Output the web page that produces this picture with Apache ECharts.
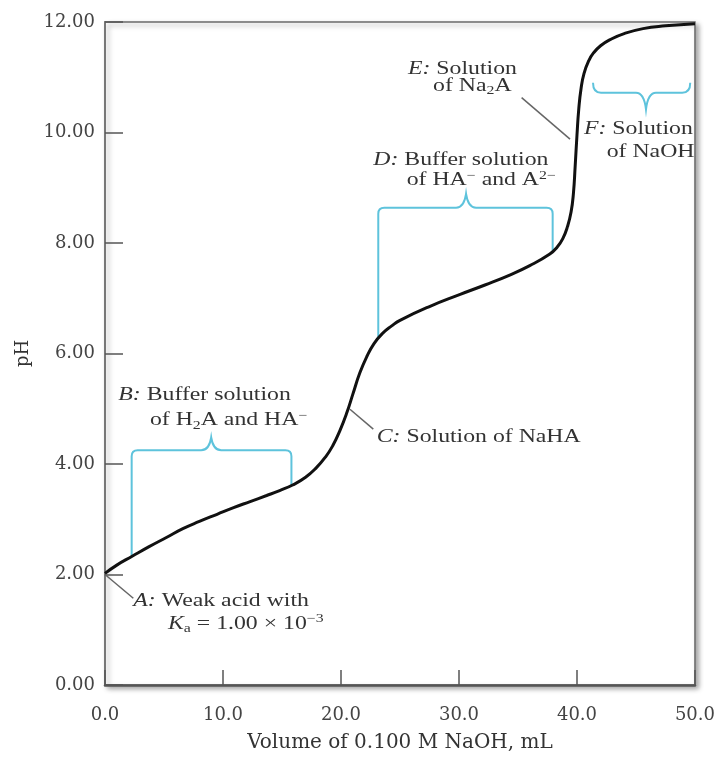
<!DOCTYPE html>
<html><head><meta charset="utf-8">
<script src="https://cdn.jsdelivr.net/npm/echarts@6/dist/echarts.min.js"></script>
<style>html,body{margin:0;padding:0;background:#fff}#c{width:718px;height:758px}</style>
</head><body><div id="c"></div>
<script>
// ---- data ----
const volumeML = [0, 1.0, 2.3, 3.7, 5.2, 6.6, 8.0, 9.5, 10.9, 12.3, 13.7, 14.8, 15.9, 17.0, 17.9, 18.7, 19.3, 19.9, 20.5, 21.0, 21.6, 22.2, 22.8, 23.5, 24.3, 25.0, 27.5, 30.1, 32.2, 34.3, 36.0, 37.7, 38.3, 38.8, 39.2, 39.5, 39.7, 39.85, 40.0, 40.15, 40.35, 40.6, 41.0, 41.4, 42.0, 42.8, 44.0, 45.6, 47.5, 50.0];
const pHValues = [2.02, 2.17, 2.33, 2.50, 2.67, 2.83, 2.96, 3.09, 3.21, 3.32, 3.43, 3.52, 3.62, 3.76, 3.93, 4.13, 4.33, 4.60, 4.93, 5.26, 5.65, 5.95, 6.18, 6.36, 6.50, 6.60, 6.85, 7.07, 7.24, 7.42, 7.59, 7.80, 7.92, 8.08, 8.30, 8.56, 8.90, 9.40, 9.95, 10.42, 10.80, 11.07, 11.30, 11.44, 11.57, 11.68, 11.79, 11.88, 11.93, 11.97];
const xTickValues = [0, 10, 20, 30, 40, 50];
const yTickValues = [0, 2, 4, 6, 8, 10, 12];

// annotation anchors (data units)
const braceB = {x0: 2.26, y0: 2.32, x1: 15.8, y1: 3.62, top: 4.25, tipX: 9.0, tipY: 4.48};
const braceD = {x0: 23.16, y0: 6.30, x1: 37.94, y1: 7.86, top: 8.64, tipX: 30.6, tipY: 8.89};
const braceF = {x0: 41.36, x1: 49.6, end: 10.9, line: 10.72, tipX: 45.85, tipY: 10.42};
const leaderLines = [
  [0.0, 2.0, 2.4, 1.57],
  [20.76, 4.99, 22.74, 4.63],
  [35.31, 10.63, 39.41, 9.88]
];
const noteTexts = [
  {at: [2.40, 1.51], text: '{i|A:} Weak acid with'},
  {at: [5.34, 1.10], text: '{i|K}{sub|a} = 1.00 × 10{sup|−3}'},
  {at: [1.13, 5.24], text: '{i|B:} Buffer solution'},
  {at: [3.81, 4.79], text: 'of H{sub|2}A and HA{sup|−}'},
  {at: [23.03, 4.48], text: '{i|C:} Solution of NaHA'},
  {at: [22.74, 9.49], text: '{i|D:} Buffer solution'},
  {at: [25.57, 9.13], text: 'of HA{sup|−} and A{sup|2−}'},
  {at: [25.68, 11.15], text: '{i|E:} Solution'},
  {at: [27.80, 10.84], text: 'of Na{sub|2}A'},
  {at: [40.59, 10.06], text: '{i|F:} Solution'},
  {at: [42.52, 9.64], text: 'of NaOH'}
];

const curveData = volumeML.map((v, i) => [v, pHValues[i]]);
const SERIF = '"Liberation Serif", "Times New Roman", serif';
const AXFONT = '"DejaVu Serif", serif';
const TXT = '#333';
const BRACE = '#5ec3dc';

function bracketPath(b, P) {
  const l = P(b.x0, b.y0), r = P(b.x1, b.y1);
  const yt = P(b.x0, b.top)[1];
  const t = P(b.tipX, b.tipY);
  const rr = 6;
  const xl = l[0], xr = r[0], xm = t[0];
  return `M${xl},${l[1]} L${xl},${yt + rr} Q${xl},${yt} ${xl + rr},${yt} L${xm - 10},${yt} Q${xm - 2},${yt} ${xm},${t[1]} Q${xm + 2},${yt} ${xm + 10},${yt} L${xr - rr},${yt} Q${xr},${yt} ${xr},${yt + rr} L${xr},${r[1]}`;
}
function bracePathF(b, P) {
  const a = P(b.x0, b.end), c = P(b.x1, b.end);
  const yl = P(b.x0, b.line)[1];
  const t = P(b.tipX, b.tipY);
  const rr = 8;
  return `M${a[0]},${a[1]} Q${a[0]},${yl} ${a[0] + rr},${yl} L${t[0] - 10},${yl} Q${t[0] - 2},${yl} ${t[0]},${t[1]} Q${t[0] + 2},${yl} ${t[0] + 10},${yl} L${c[0] - rr},${yl} Q${c[0]},${yl} ${c[0]},${c[1]}`;
}

const richStyles = {
  i: {fontStyle: 'italic', fontFamily: SERIF, fontSize: 18, fill: TXT, color: TXT, lineHeight: 22},
  sub: {fontFamily: SERIF, fontSize: 12, fill: TXT, color: TXT, lineHeight: 12, verticalAlign: 'bottom'},
  sup: {fontFamily: SERIF, fontSize: 12, fill: TXT, color: TXT, lineHeight: 12, verticalAlign: 'top'}
};

function renderNotes(params, api) {
  const P = (x, y) => api.coord([x, y]);
  const children = [];
  [braceB, braceD].forEach(b => children.push({
    type: 'path', shape: {pathData: bracketPath(b, P)},
    style: {stroke: BRACE, lineWidth: 2, fill: 'none'}
  }));
  children.push({type: 'path', shape: {pathData: bracePathF(braceF, P)},
    style: {stroke: BRACE, lineWidth: 2, fill: 'none'}});
  leaderLines.forEach(l => {
    const a = P(l[0], l[1]), b = P(l[2], l[3]);
    children.push({type: 'line', shape: {x1: a[0], y1: a[1], x2: b[0], y2: b[1]},
      style: {stroke: '#666', lineWidth: 1.5}});
  });
  noteTexts.forEach(t => {
    const p = P(t.at[0], t.at[1]);
    children.push({type: 'text', x: p[0], y: p[1], scaleX: 1.32,
      style: {text: t.text, rich: richStyles, fontFamily: SERIF, fontSize: 18, fill: TXT,
        lineHeight: 22, align: 'left', verticalAlign: 'middle'}});
  });
  return {type: 'group', children};
}

const chart = echarts.init(document.getElementById('c'));
chart.setOption({
  backgroundColor: '#fff',
  animation: false,
  grid: {left: 105, right: 23, top: 22, bottom: 69, show: true, borderColor: '#6a6a6a', borderWidth: 1.5,
    backgroundColor: '#fff', shadowColor: 'rgba(0,0,0,0.35)', shadowBlur: 5, shadowOffsetX: 3, shadowOffsetY: 3},
  xAxis: {
    type: 'value', min: xTickValues[0], max: xTickValues[xTickValues.length - 1], interval: 10,
    name: 'Volume of 0.100 M NaOH, mL', nameLocation: 'middle', nameGap: 48,
    nameTextStyle: {fontFamily: AXFONT, fontSize: 20, color: TXT},
    axisLine: {lineStyle: {color: '#555', width: 2.5}},
    axisTick: {inside: true, length: 15, lineStyle: {color: '#555', width: 1.5}},
    axisLabel: {formatter: v => v.toFixed(1), margin: 21, fontFamily: AXFONT, fontSize: 18, color: '#444'},
    splitLine: {show: false}
  },
  yAxis: {
    type: 'value', min: yTickValues[0], max: yTickValues[yTickValues.length - 1], interval: 2,
    name: 'pH', nameLocation: 'middle', nameGap: 72,
    nameTextStyle: {fontFamily: AXFONT, fontSize: 18, color: TXT},
    axisLine: {show: true, lineStyle: {color: '#777', width: 2}},
    axisTick: {show: true, inside: true, length: 18, lineStyle: {color: '#555', width: 1.5}},
    axisLabel: {formatter: v => v.toFixed(2), margin: 10, fontFamily: AXFONT, fontSize: 18, color: '#444'},
    splitLine: {show: false}
  },
  series: [
    {type: 'custom', data: [[0, 0]], renderItem: renderNotes, clip: false, silent: true, z: 1},
    {type: 'line', data: curveData, showSymbol: false, symbol: 'none', smooth: 0.5,
      lineStyle: {color: '#111', width: 3}, z: 3, silent: true}
  ]
});
</script></body></html>
